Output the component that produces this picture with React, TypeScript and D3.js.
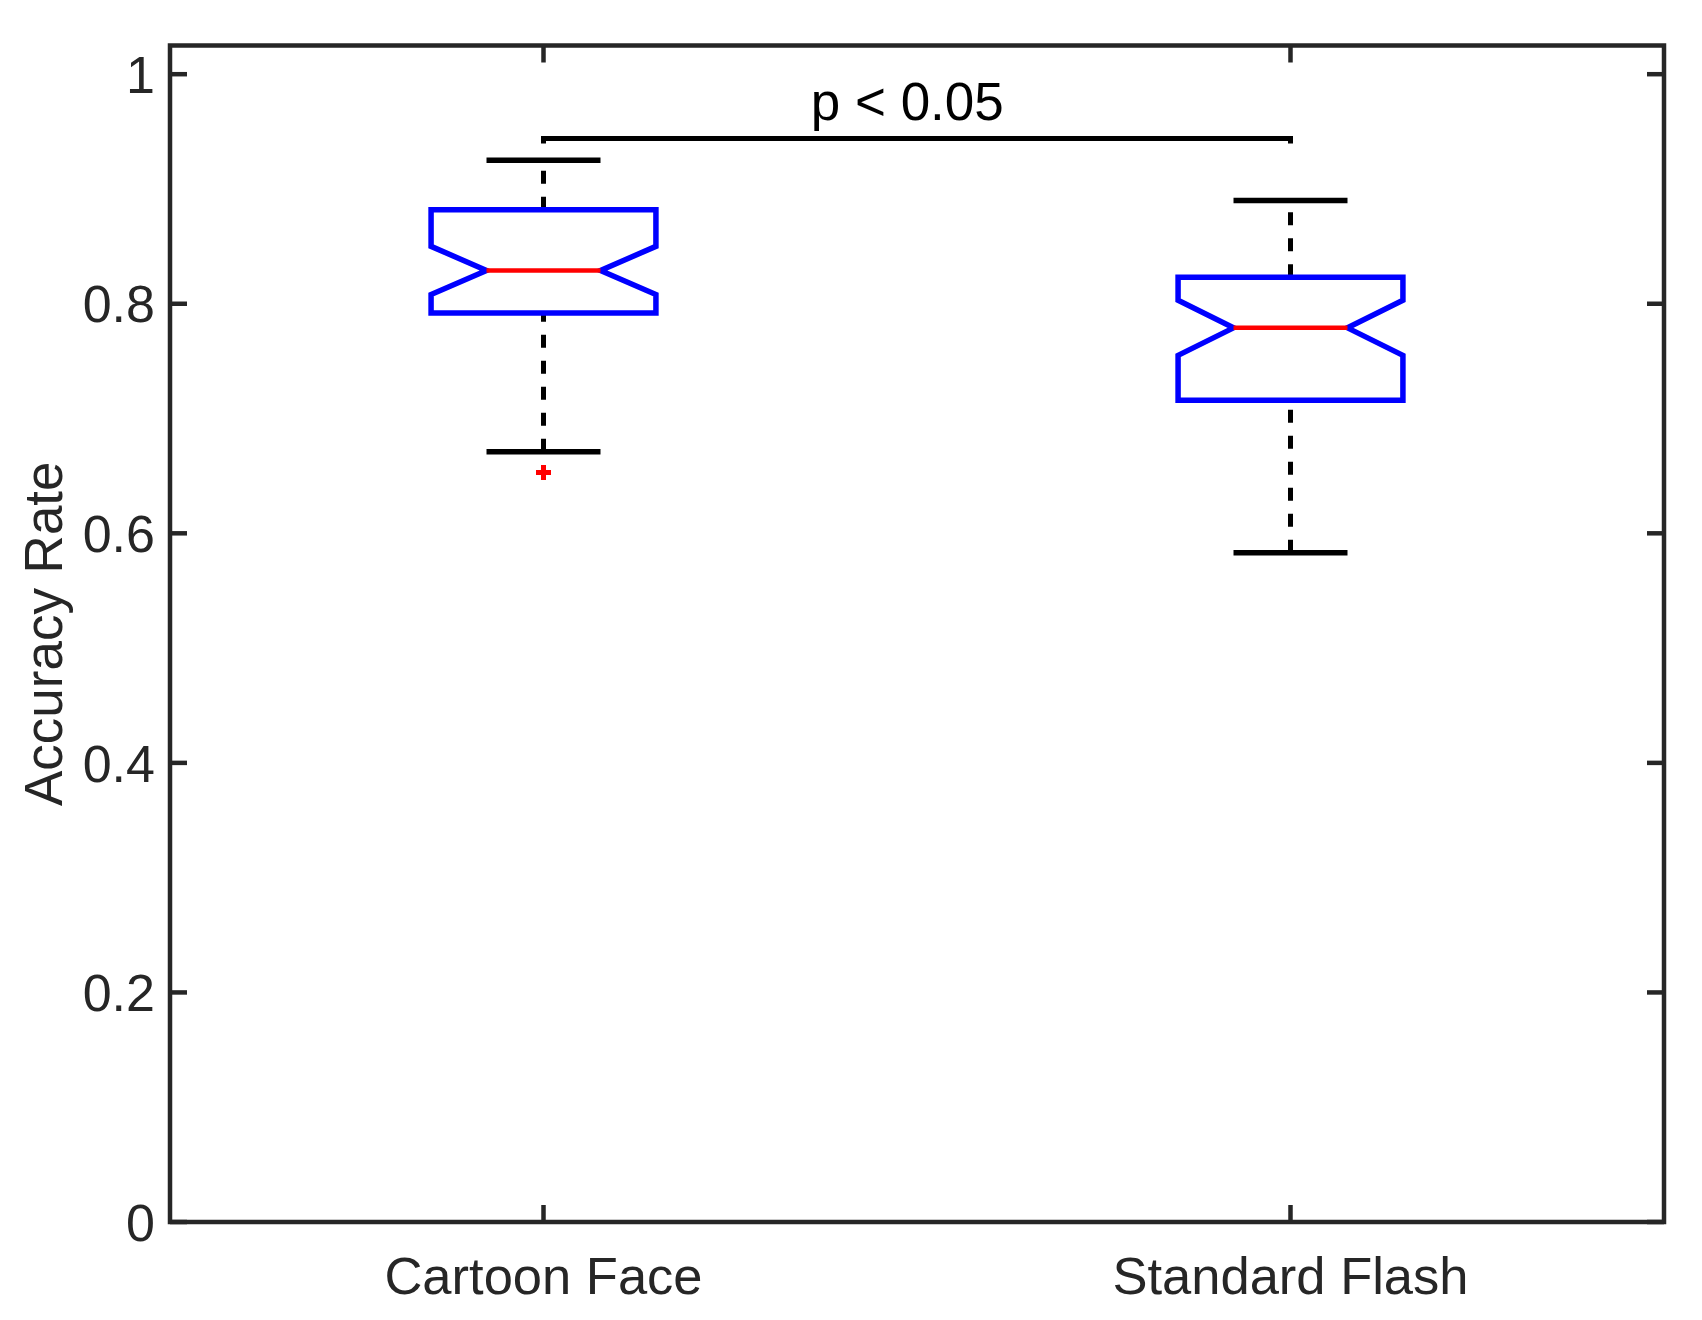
import { useEffect, useRef } from "react";
import * as d3 from "d3";

const categories = ["Cartoon Face", "Standard Flash"];
const q1 = [0.792, 0.716];
const medians = [0.829, 0.779];
const q3 = [0.882, 0.823];
const notchLo = [0.808, 0.755];
const notchHi = [0.85, 0.803];
const whiskerLo = [0.671, 0.583];
const whiskerHi = [0.925, 0.89];
const outliers = [[0.653], []];
const yTicks = [0, 0.2, 0.4, 0.6, 0.8, 1];
const yTickLabels = ["0", "0.2", "0.4", "0.6", "0.8", "1"];
const sigLevel = 0.944;
const sigLabel = "p < 0.05";

const W = 1702;
const H = 1320;
const FONT = "'Liberation Sans', Arial, Helvetica, sans-serif";
const AX = "#262626";

export default function App() {
  const svgRef = useRef<SVGSVGElement | null>(null);

  useEffect(() => {
    if (!svgRef.current) return;
    const svg = d3.select(svgRef.current);
    svg.selectAll("*").remove();

    const left = 170, right = 1664, top = 45.5, bottom = 1222;
    const x = d3.scaleLinear().domain([0.5, 2.5]).range([left, right]);
    const y = d3.scaleLinear().domain([0, 1.025]).range([bottom, top]);
    const bw = 0.1505; // box half width
    const nw = 0.0763; // notch / cap half width
    const tick = 17;

    svg.append("rect").attr("width", W).attr("height", H).attr("fill", "#fff");

    // axis ticks (MATLAB box, ticks inward on all sides)
    const ax = svg.append("g").attr("stroke", AX).attr("stroke-width", 4.5);
    yTicks.forEach((t) => {
      ax.append("line").attr("x1", left).attr("x2", left + tick).attr("y1", y(t)).attr("y2", y(t));
      ax.append("line").attr("x1", right).attr("x2", right - tick).attr("y1", y(t)).attr("y2", y(t));
    });
    categories.forEach((_, i) => {
      ax.append("line").attr("x1", x(i + 1)).attr("x2", x(i + 1)).attr("y1", bottom).attr("y2", bottom - tick);
      ax.append("line").attr("x1", x(i + 1)).attr("x2", x(i + 1)).attr("y1", top).attr("y2", top + tick);
    });

    // boxes
    categories.forEach((_, i) => {
      const c = i + 1;
      const g = svg.append("g");
      // whiskers, drawn bottom to top like MATLAB
      g.append("line").attr("x1", x(c)).attr("x2", x(c)).attr("y1", y(whiskerLo[i])).attr("y2", y(q1[i]))
        .attr("stroke", "#000").attr("stroke-width", 5).attr("stroke-dasharray", "13,13");
      g.append("line").attr("x1", x(c)).attr("x2", x(c)).attr("y1", y(q3[i])).attr("y2", y(whiskerHi[i]))
        .attr("stroke", "#000").attr("stroke-width", 5).attr("stroke-dasharray", "13,13");
      [whiskerLo[i], whiskerHi[i]].forEach((v) => {
        g.append("line").attr("x1", x(c - nw)).attr("x2", x(c + nw)).attr("y1", y(v)).attr("y2", y(v))
          .attr("stroke", "#000").attr("stroke-width", 5.5);
      });
      const pts: [number, number][] = [
        [c - bw, q1[i]], [c - bw, notchLo[i]], [c - nw, medians[i]], [c - bw, notchHi[i]],
        [c - bw, q3[i]], [c + bw, q3[i]], [c + bw, notchHi[i]], [c + nw, medians[i]],
        [c + bw, notchLo[i]], [c + bw, q1[i]],
      ];
      const line = d3.line<[number, number]>().x((d) => x(d[0])).y((d) => y(d[1])).curve(d3.curveLinearClosed);
      g.append("path").attr("d", line(pts)).attr("fill", "none").attr("stroke", "#0000ff")
        .attr("stroke-width", 5.5).attr("stroke-linejoin", "miter");
      g.append("line").attr("x1", x(c - nw)).attr("x2", x(c + nw)).attr("y1", y(medians[i])).attr("y2", y(medians[i]))
        .attr("stroke", "#ff0000").attr("stroke-width", 4.5);
      outliers[i].forEach((v) => {
        g.append("path").attr("d", `M${x(c) - 7.5},${y(v)}h15M${x(c)},${y(v) - 7.5}v15`)
          .attr("stroke", "#ff0000").attr("stroke-width", 5).attr("fill", "none");
      });
    });

    // significance bracket
    svg.append("path")
      .attr("d", `M${x(1)},${y(sigLevel) + 5}V${y(sigLevel)}H${x(2)}V${y(sigLevel) + 5}`)
      .attr("fill", "none").attr("stroke", "#000").attr("stroke-width", 5);
    svg.append("text").attr("x", x(1.487)).attr("y", y(0.96)).attr("text-anchor", "middle")
      .attr("font-family", FONT).attr("font-size", 53).attr("fill", "#000").text(sigLabel);

    // frame
    svg.append("rect").attr("x", left).attr("y", top).attr("width", right - left).attr("height", bottom - top)
      .attr("fill", "none").attr("stroke", AX).attr("stroke-width", 4.5);

    // tick labels
    yTicks.forEach((t, i) => {
      svg.append("text").attr("x", left - 15).attr("y", y(t)).attr("dy", "0.36em").attr("text-anchor", "end")
        .attr("font-family", FONT).attr("font-size", 52).attr("fill", AX).text(yTickLabels[i]);
    });
    categories.forEach((name, i) => {
      svg.append("text").attr("x", x(i + 1)).attr("y", bottom + 72).attr("text-anchor", "middle")
        .attr("font-family", FONT).attr("font-size", 52.5).attr("fill", AX).text(name);
    });
    svg.append("text").attr("transform", `translate(62,${(top + bottom) / 2}) rotate(-90)`)
      .attr("text-anchor", "middle").attr("font-family", FONT).attr("font-size", 53).attr("fill", AX)
      .text("Accuracy Rate");
  }, []);

  return (
    <svg ref={svgRef} width={W} height={H} style={{ position: "absolute", left: 0, top: 0 }} />
  );
}
